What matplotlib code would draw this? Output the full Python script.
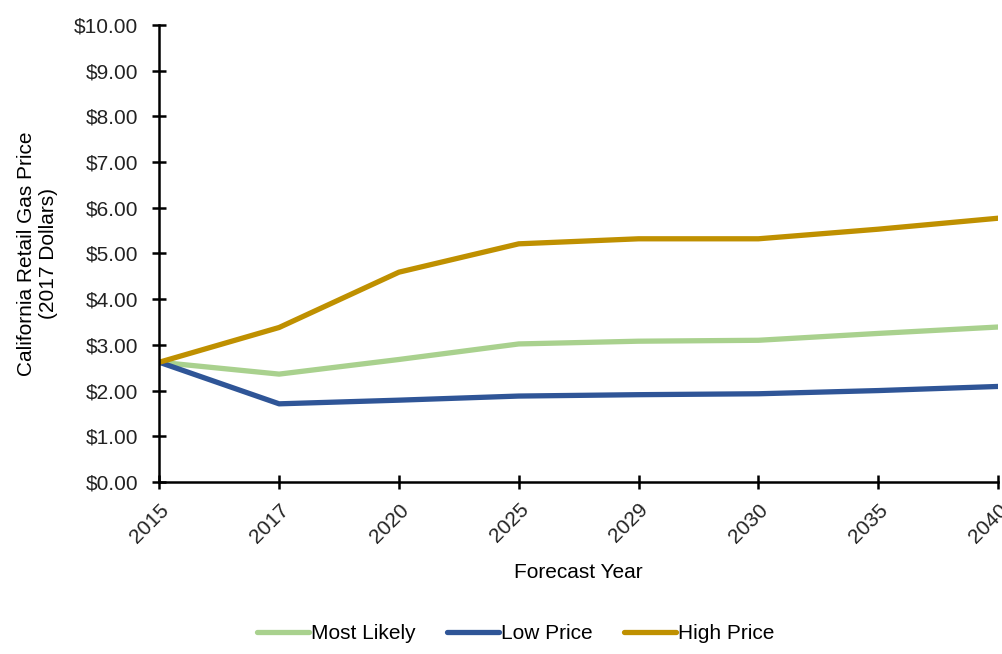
import numpy as np
import matplotlib.pyplot as plt
from matplotlib import font_manager

# condensed font if available
names = set(f.name for f in font_manager.fontManager.ttflist)
fam = ['Liberation Sans Narrow', 'Liberation Sans', 'DejaVu Sans']
fam = [f for f in fam if f in names] or ['DejaVu Sans']
plt.rcParams['font.family'] = fam

years = ['2015', '2017', '2020', '2025', '2029', '2030', '2035', '2040']
most_likely = [2.62, 2.36, 2.68, 3.02, 3.08, 3.10, 3.25, 3.39]
low_price = [2.62, 1.71, 1.79, 1.88, 1.91, 1.93, 2.00, 2.09]
high_price = [2.62, 3.38, 4.59, 5.21, 5.32, 5.32, 5.53, 5.77]

y_ticks = np.arange(0, 11, 1)

fig = plt.figure(figsize=(10.02, 6.54), dpi=100)
ax = fig.add_axes([0.159, 0.263, 0.837, 0.699])

x = np.arange(len(years))
ax.plot(x, most_likely, color='#A9D18E', lw=3.8, label='Most Likely', solid_capstyle='round')
ax.plot(x, low_price, color='#2F5597', lw=3.8, label='Low Price', solid_capstyle='round')
ax.plot(x, high_price, color='#BF9000', lw=3.8, label='High Price', solid_capstyle='round')

ax.set_xlim(0, len(years) - 1)
ax.set_ylim(0, 10)
ax.set_xticks(x)
ax.set_xticklabels(years, rotation=45, ha='right', rotation_mode='anchor', fontsize=15)
ax.set_yticks(y_ticks)
ax.set_yticklabels(['$%.2f' % v for v in y_ticks], fontsize=15)
ax.tick_params(direction='inout', length=10, width=1.8, color='black', labelcolor='#222222')
ax.tick_params(axis='y', pad=10)
ax.tick_params(axis='x', pad=8)

for s in ['top', 'right']:
    ax.spines[s].set_visible(False)
for s in ['left', 'bottom']:
    ax.spines[s].set_linewidth(1.8)

ax.set_xlabel('Forecast Year', fontsize=15, labelpad=12)
ax.set_ylabel('California Retail Gas Price\n(2017 Dollars)', fontsize=15, labelpad=12)

fig.legend(loc='lower center', bbox_to_anchor=(0.515, -0.012), ncol=3, frameon=False,
           fontsize=15, handlelength=2.5, handletextpad=0.1, columnspacing=1.5)

fig.savefig('out.png', dpi=100)
